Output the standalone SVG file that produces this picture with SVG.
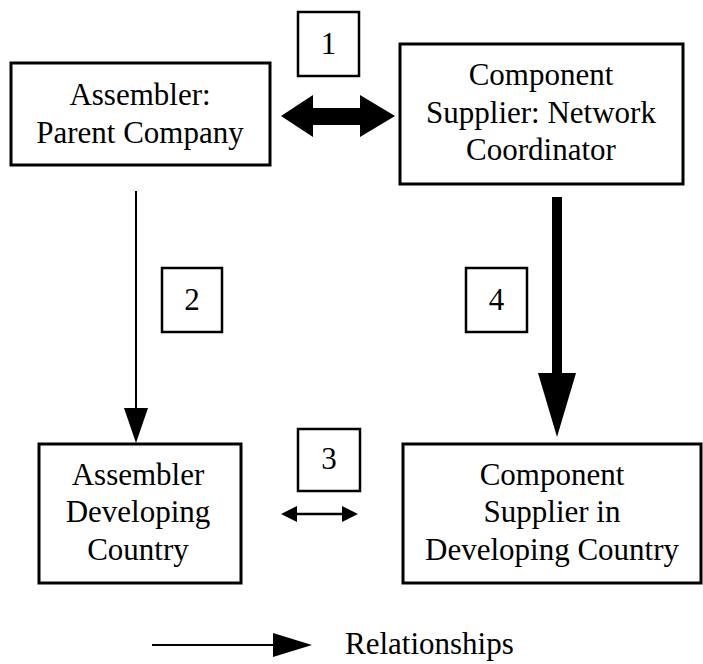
<svg xmlns="http://www.w3.org/2000/svg" width="703" height="664" viewBox="0 0 703 664">
  <style>
    .box { fill: #fff; stroke: #000; stroke-width: 3; }
    .tag { fill: #fff; stroke: #000; stroke-width: 2.5; }
    .lbl { font-family: "Liberation Serif", "Times New Roman", serif; font-size: 31px; fill: #000; text-anchor: middle; }
    .line { stroke: #000; fill: none; }
    .head { fill: #000; stroke: none; }
  </style>
  <rect width="703" height="664" fill="#fff"/>

  <g id="connectors">
    <!-- 1: heavy two-way link between parent assembler and network coordinator -->
    <polygon class="head" points="281,116 313,95 313,108 360,108 360,95 395,116 360,137 360,125 313,125 313,137"/>
    <!-- 2: parent assembler to assembler in developing country -->
    <line class="line" x1="136" y1="191" x2="136" y2="410" stroke-width="2"/>
    <polygon class="head" points="124,408 148,408 136,443"/>
    <!-- 4: heavy link from coordinator to local supplier -->
    <rect class="head" x="552" y="197" width="10" height="178"/>
    <polygon class="head" points="538,373 576,373 557,437"/>
    <!-- 3: light two-way link between the developing-country firms -->
    <line class="line" x1="292" y1="514" x2="347" y2="514" stroke-width="2.5"/>
    <polygon class="head" points="281,514 297,506 297,522"/>
    <polygon class="head" points="358,514 342,506 342,522"/>
  </g>

  <g id="parent-assembler">
    <rect class="box" x="11" y="63" width="259" height="102"/>
    <text class="lbl" x="140" y="105">Assembler:</text>
    <text class="lbl" x="140" y="143">Parent Company</text>
  </g>

  <g id="network-coordinator">
    <rect class="box" x="400" y="44" width="283" height="140"/>
    <text class="lbl" x="541" y="85">Component</text>
    <text class="lbl" x="541" y="123">Supplier: Network</text>
    <text class="lbl" x="541" y="160">Coordinator</text>
  </g>

  <g id="local-assembler">
    <rect class="box" x="39" y="444" width="202" height="139"/>
    <text class="lbl" x="138" y="485">Assembler</text>
    <text class="lbl" x="138" y="522">Developing</text>
    <text class="lbl" x="138" y="560">Country</text>
  </g>

  <g id="local-supplier">
    <rect class="box" x="403" y="444" width="298" height="139"/>
    <text class="lbl" x="552" y="485">Component</text>
    <text class="lbl" x="552" y="522">Supplier in</text>
    <text class="lbl" x="552" y="560">Developing Country</text>
  </g>

  <g id="tag-1">
    <rect class="tag" x="298" y="12" width="61" height="64"/>
    <text class="lbl" x="328.5" y="54">1</text>
  </g>
  <g id="tag-2">
    <rect class="tag" x="162" y="268" width="60" height="64"/>
    <text class="lbl" x="192" y="310">2</text>
  </g>
  <g id="tag-3">
    <rect class="tag" x="298" y="429" width="62" height="62"/>
    <text class="lbl" x="329" y="469">3</text>
  </g>
  <g id="tag-4">
    <rect class="tag" x="466" y="268" width="61" height="64"/>
    <text class="lbl" x="496.5" y="310">4</text>
  </g>

  <g id="legend">
    <line class="line" x1="152" y1="645" x2="275" y2="645" stroke-width="2"/>
    <polygon class="head" points="273,633 312,645 273,657"/>
    <text class="lbl" x="345" y="654" style="text-anchor:start">Relationships</text>
  </g>
</svg>
